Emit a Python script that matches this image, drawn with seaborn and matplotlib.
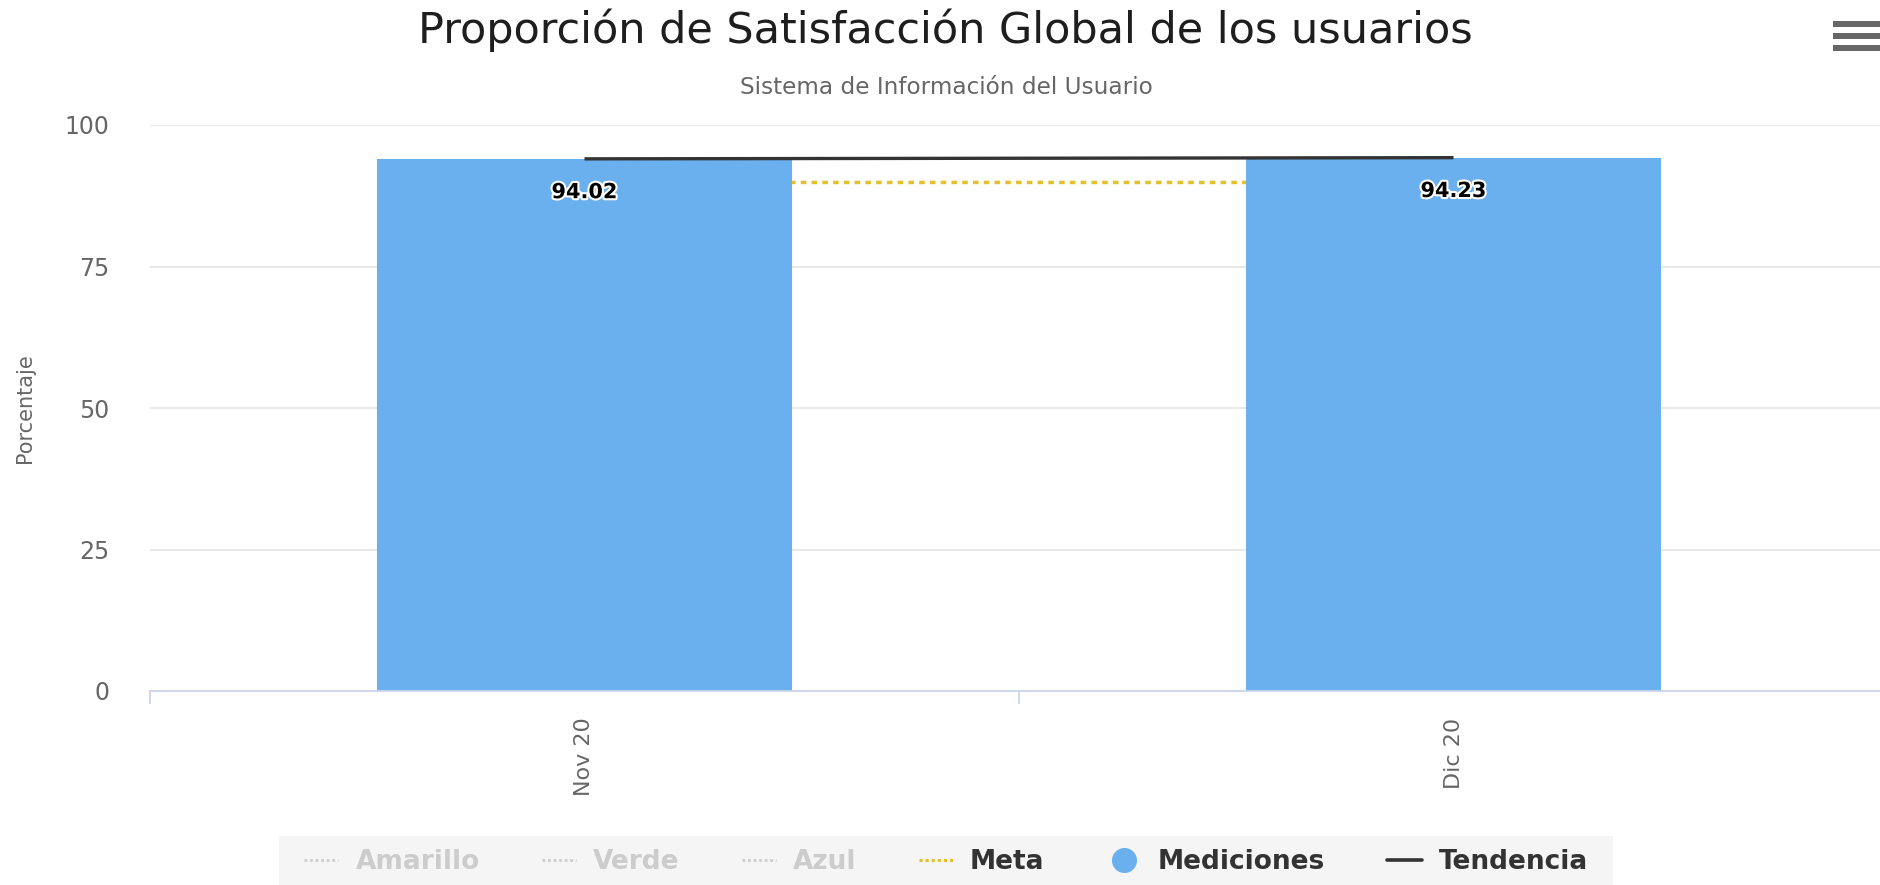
import numpy as np
import pandas as pd
import matplotlib
matplotlib.use("Agg")
import matplotlib.pyplot as plt
from matplotlib.lines import Line2D
from matplotlib.patches import Rectangle
import matplotlib.patheffects as pe
import seaborn as sns

# --- data ---
categorias = ["Nov 20", "Dic 20"]
mediciones = [94.02, 94.23]
meta = [90, 90]
tendencia = [94.02, 94.23]
y_ticks = [0, 25, 50, 75, 100]

titulo = "Proporción de Satisfacción Global de los usuarios"
subtitulo = "Sistema de Información del Usuario"
eje_y = "Porcentaje"
leyenda = ["Amarillo", "Verde", "Azul", "Meta", "Mediciones", "Tendencia"]

# --- styling ---
COLOR_BARRA = "#6aafee"
COLOR_META = "#e4c02a"
COLOR_TEND = "#333333"
COLOR_GRID = "#e6e6e6"
COLOR_EJE = "#ccd6eb"
COLOR_TEXTO = "#666666"
COLOR_OCULTO = "#cccccc"

sns.set_theme(style="white")
plt.rcParams["font.family"] = ["DejaVu Sans"]

W, H = 1880, 885
fig = plt.figure(figsize=(W / 100, H / 100), dpi=100)
fig.patch.set_facecolor("white")
ax = fig.add_axes([150 / W, 194 / H, 1738 / W, 566 / H])

df = pd.DataFrame({"mes": categorias, "valor": mediciones})
sns.barplot(data=df, x="mes", y="valor", color=COLOR_BARRA, saturation=1,
            width=0.478, ax=ax, zorder=1, linewidth=0)

x = np.arange(len(categorias))
# target line sits behind the bars, trend line on top
ax.plot(x, meta, color=COLOR_META, lw=2.5, ls=(0, (1.6, 1.5)), zorder=0.8)
ax.plot(x, tendencia, color=COLOR_TEND, lw=2.4, zorder=3, solid_capstyle="butt")

for xi, v in zip(x, mediciones):
    ax.annotate(f"{v:.2f}", (xi, v), xytext=(0, -24), textcoords="offset points",
                ha="center", va="center", fontsize=15, fontweight="bold",
                color="black", zorder=4,
                path_effects=[pe.withStroke(linewidth=3, foreground="white")])

# axes
ax.set_xlim(-0.5, len(categorias) - 0.5)
ax.set_ylim(0, 100)
ax.set_yticks(y_ticks)
ax.set_axisbelow(True)
ax.yaxis.grid(True, color=COLOR_GRID, lw=1.3)
ax.xaxis.grid(False)
for s in ["top", "right", "left"]:
    ax.spines[s].set_visible(False)
ax.spines["bottom"].set_color(COLOR_EJE)
ax.spines["bottom"].set_linewidth(1.3)

ax.set_xticks(x)
ax.set_xticklabels(categorias, rotation=90)
ax.set_xticks(np.arange(len(categorias) + 1) - 0.5, minor=True)
ax.tick_params(axis="x", which="major", length=0, pad=19, labelsize=16,
               labelcolor=COLOR_TEXTO)
ax.tick_params(axis="x", which="minor", bottom=True, length=9, width=1.3,
               color=COLOR_EJE, direction="out")
ax.tick_params(axis="y", length=0, pad=29, labelsize=17, labelcolor=COLOR_TEXTO)

ax.set_xlabel("")
ax.set_ylabel(eje_y, fontsize=15, color=COLOR_TEXTO)
ax.yaxis.set_label_coords(-0.0660, 0.5)

# titles
fig.text(945 / W, 1 - 30 / H, titulo, ha="center", va="center", fontsize=31,
         color="#1e1e1e")
fig.text(946 / W, 1 - 87 / H, subtitulo, ha="center", va="center", fontsize=16.7,
         color=COLOR_TEXTO)

# legend background band
fig.add_artist(Rectangle((279 / W, 0), (1613 - 279) / W, (885 - 836) / H,
                         transform=fig.transFigure, color="#f5f5f5", lw=0,
                         zorder=0))

handles = [
    Line2D([], [], color=COLOR_OCULTO, lw=2, ls=(0, (1, 1))),
    Line2D([], [], color=COLOR_OCULTO, lw=2, ls=(0, (1, 1))),
    Line2D([], [], color=COLOR_OCULTO, lw=2, ls=(0, (1, 1))),
    Line2D([], [], color=COLOR_META, lw=2.2, ls=(0, (1, 1))),
    Line2D([], [], ls="none", marker="o", markersize=17,
           markerfacecolor=COLOR_BARRA, markeredgecolor=COLOR_BARRA),
    Line2D([], [], color=COLOR_TEND, lw=2.6),
]
leg = fig.legend(handles, leyenda, loc="center",
                 bbox_to_anchor=(946 / W, 1 - 862 / H), ncol=6, frameon=False,
                 prop={"weight": "bold", "size": 19}, handlelength=1.3,
                 handletextpad=0.65, columnspacing=2.35, borderpad=0.5)
for t, c in zip(leg.get_texts(),
                [COLOR_OCULTO] * 3 + ["#333333"] * 3):
    t.set_color(c)

# menu icon
for yc in (24, 36, 48):
    fig.add_artist(Rectangle((1833 / W, 1 - (yc + 3) / H), 47 / W, 6 / H,
                             transform=fig.transFigure, color=COLOR_TEXTO,
                             lw=0))

fig.savefig("out.png", dpi=100)
